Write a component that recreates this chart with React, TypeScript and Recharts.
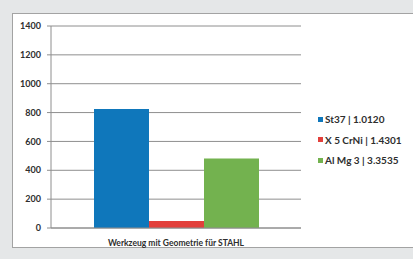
import React from "react";
import { BarChart, Bar, XAxis, YAxis, CartesianGrid } from "recharts";

const categories = ["Werkzeug mit Geometrie für STAHL"];
const seriesNames = ["St37 | 1.0120", "X 5 CrNi | 1.4301", "Al Mg 3 | 3.3535"];
const seriesValues = [825, 48, 482];
const seriesColors = ["#0f77bb", "#e2403b", "#73b24f"];
const yTicks = [0, 200, 400, 600, 800, 1000, 1200, 1400];

const data = categories.map((name) => {
  const row: Record<string, string | number> = { name };
  seriesNames.forEach((s, i) => {
    row[`s${i}`] = seriesValues[i];
  });
  return row;
});

const FONT = "Lato, 'Open Sans', sans-serif";

export default function App() {
  return (
    <div
      style={{
        position: "fixed",
        left: 0,
        top: 0,
        width: 413,
        height: 259,
        background: "#e5e7e8",
        overflow: "hidden",
        fontFamily: FONT,
      }}
    >
      <div
        style={{
          position: "absolute",
          left: 12,
          top: 13,
          width: 410,
          height: 235,
          background: "#fff",
          border: "1px solid #a3a3a3",
          boxSizing: "border-box",
        }}
      />
      <div style={{ position: "absolute", left: 0, top: 0 }}>
        <BarChart
          width={413}
          height={259}
          data={data}
          margin={{ top: 26, right: 112, bottom: 11, left: 0 }}
          barGap={0}
          barCategoryGap={43}
        >
          <CartesianGrid vertical={false} stroke="#8e8e8e" strokeWidth={1} />
          <XAxis
            dataKey="name"
            height={20}
            axisLine={{ stroke: "#8e8e8e" }}
            tickLine={false}
            tick={{ fontSize: 8.5, fill: "#2e2e2e", fontFamily: FONT, fontWeight: 700 }}
            tickMargin={6}
          />
          <YAxis
            width={51}
            domain={[0, 1400]}
            ticks={yTicks}
            interval={0}
            axisLine={{ stroke: "#8e8e8e" }}
            tickLine={{ stroke: "#8e8e8e" }}
            tickSize={4}
            tickMargin={6}
            tick={{ fontSize: 9, fill: "#2e2e2e", fontFamily: FONT, fontWeight: 700 }}
          />
          {seriesNames.map((s, i) => (
            <Bar key={s} dataKey={`s${i}`} name={s} fill={seriesColors[i]} isAnimationActive={false} />
          ))}
        </BarChart>
      </div>
      <div style={{ position: "absolute", left: 318, top: 109 }}>
        {seriesNames.map((s, i) => (
          <div
            key={s}
            style={{
              display: "flex",
              alignItems: "center",
              height: 20.5,
              fontSize: 10,
              color: "#2e2e2e",
              fontWeight: 700,
              whiteSpace: "nowrap",
            }}
          >
            <span
              style={{
                display: "inline-block",
                width: 5,
                height: 5,
                background: seriesColors[i],
                marginRight: 2,
              }}
            />
            {s}
          </div>
        ))}
      </div>
    </div>
  );
}
